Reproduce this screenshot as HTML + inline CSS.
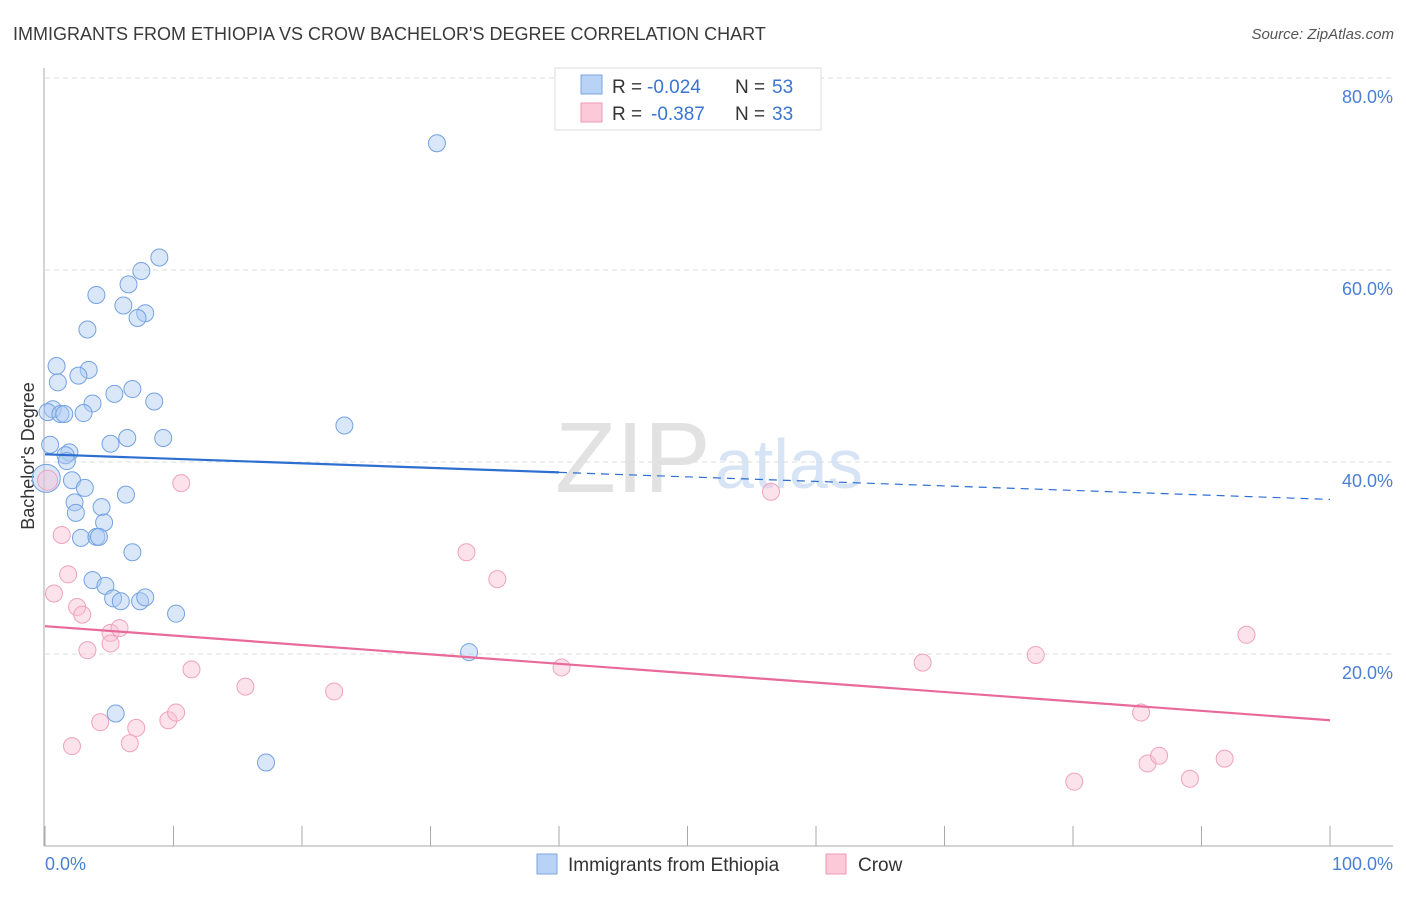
<!DOCTYPE html>
<html><head><meta charset="utf-8"><style>
body{margin:0;background:#fff;font-family:"Liberation Sans",sans-serif}
svg text{font-family:"Liberation Sans",sans-serif}
</style></head><body>
<svg id="chart" width="1406" height="892" xmlns="http://www.w3.org/2000/svg">
<text x="13" y="40" font-size="18" fill="#3a3a3a">IMMIGRANTS FROM ETHIOPIA VS CROW BACHELOR'S DEGREE CORRELATION CHART</text>
<text x="1394" y="39" font-size="15" font-style="italic" fill="#555" text-anchor="end">Source: ZipAtlas.com</text>
<text x="555" y="492" font-size="100" font-family="Liberation Serif" fill="#e2e2e2">ZIP</text>
<text x="715" y="488" font-size="70" fill="#d6e4f5">atlas</text>
<g id="grid"></g>
<line x1="44" y1="68" x2="44" y2="846" stroke="#aaa"/>
<line x1="44" y1="846" x2="1393" y2="846" stroke="#aaa"/>
<text transform="translate(34,456) rotate(-90)" font-size="18" fill="#333" text-anchor="middle">Bachelor's Degree</text>
<text x="45" y="870" font-size="18" fill="#4a7fd4">0.0%</text>
<text x="1393" y="870" font-size="18" fill="#4a7fd4" text-anchor="end">100.0%</text>
<g id="marks"></g>
<g>
<rect x="555" y="68" width="266" height="62" fill="#fff" stroke="#ddd"/>
<rect x="581" y="75" width="21" height="19" fill="#b8d3f5" stroke="#7ba4e0"/>
<rect x="581" y="103" width="21" height="19" fill="#fbc9d8" stroke="#ee9ab5"/>
<text x="612" y="93" font-size="19" fill="#333">R =</text>
<text x="647" y="93" font-size="19" fill="#3a75d0">-0.024</text>
<text x="735" y="93" font-size="19" fill="#333">N =</text>
<text x="772" y="93" font-size="19" fill="#3a75d0">53</text>
<text x="612" y="120" font-size="19" fill="#333">R =</text>
<text x="651" y="120" font-size="19" fill="#3a75d0">-0.387</text>
<text x="735" y="120" font-size="19" fill="#333">N =</text>
<text x="772" y="120" font-size="19" fill="#3a75d0">33</text>
</g>
<g>
<rect x="537" y="854" width="20" height="20" fill="#b8d3f5" stroke="#7ba4e0"/>
<text x="568" y="871" font-size="19" fill="#333">Immigrants from Ethiopia</text>
<rect x="826" y="854" width="20" height="20" fill="#fbc9d8" stroke="#ee9ab5"/>
<text x="858" y="871" font-size="19" fill="#333">Crow</text>
</g>
</svg>
<script>
const yTicks=[20,40,60,80];
const xTicks=[0,10,20,30,40,50,60,70,80,90,100];
const blueX=[30.5,8.9,7.5,6.5,4.0,6.1,7.8,7.2,3.3,0.9,3.4,1.0,2.6,5.4,6.8,3.7,8.5,0.6,0.2,1.2,1.5,3.0,6.4,9.2,5.1,23.3,1.9,1.6,1.7,0.4,2.1,3.1,6.3,2.3,4.4,2.4,4.6,2.8,4.0,4.2,6.8,3.7,4.7,5.3,5.9,7.4,7.8,10.2,33.0,5.5,17.2,0.1];
const blueY=[73.2,61.3,59.9,58.5,57.4,56.3,55.5,55.0,53.8,50.0,49.6,48.3,49.0,47.1,47.6,46.1,46.3,45.5,45.2,45.0,45.0,45.1,42.5,42.5,41.9,43.8,41.0,40.7,40.1,41.8,38.1,37.3,36.6,35.8,35.3,34.7,33.7,32.1,32.2,32.2,30.6,27.7,27.1,25.8,25.5,25.5,25.9,24.2,20.2,13.8,8.7,38.3];
const pinkX=[0.2,1.3,0.7,1.8,2.5,2.9,3.3,5.1,5.1,5.8,2.1,4.3,6.6,7.1,9.6,10.2,10.6,11.4,15.6,22.5,32.8,35.2,40.2,56.5,68.3,77.1,85.3,85.8,86.7,89.1,91.8,93.5,80.1];
const pinkY=[38.1,32.4,26.3,28.3,24.9,24.1,20.4,22.2,21.1,22.7,10.4,12.9,10.7,12.3,13.1,13.9,37.8,18.4,16.6,16.1,30.6,27.8,18.6,36.9,19.1,19.9,13.9,8.6,9.4,7.0,9.1,22.0,6.7];
const blueTrend=[40.8,36.1];
const pinkTrend=[22.9,13.1];
const X=v=>45+v*12.85, Y=v=>846-v*9.6;
const NS="http://www.w3.org/2000/svg";
const grid=document.getElementById('grid'), marks=document.getElementById('marks');
function mk(tag,attrs,parent){const e=document.createElementNS(NS,tag);for(const k in attrs)e.setAttribute(k,attrs[k]);parent.appendChild(e);return e;}
yTicks.forEach(t=>{
 const l=mk('line',{x1:45,x2:1393,y1:Y(t),y2:Y(t),stroke:'#ddd','stroke-dasharray':'5,4'},grid);
 
 
 const tx=mk('text',{x:1393,y:Y(t)+25,'font-size':18,fill:'#4a7fd4','text-anchor':'end'},grid);
 tx.textContent=t.toFixed(1)+'%';
 
 
});
xTicks.forEach(t=>{
 const l=mk('line',{x1:X(t),x2:X(t),y1:826,y2:846,stroke:'#aaa'},grid);
 
 
});
blueX.forEach((v,i)=>{
 const c=mk('circle',{cx:X(v),cy:Y(blueY[i]),r:i===blueX.length-1?14:8.5,fill:'rgba(170,202,242,0.45)',stroke:'#74a2e2','stroke-width':1},marks);
 
 
});
pinkX.forEach((v,i)=>{
 const c=mk('circle',{cx:X(v),cy:Y(pinkY[i]),r:i===0?10:8.5,fill:'rgba(248,192,210,0.45)',stroke:'#efa2bb','stroke-width':1},marks);
 
 
});
const bAt=x=>blueTrend[0]+(blueTrend[1]-blueTrend[0])*x/100;
let l1=mk('line',{x1:X(0),y1:Y(bAt(0)),x2:X(40),y2:Y(bAt(40)),stroke:'#2d6fd0','stroke-width':2.2},marks);


let l2=mk('line',{x1:X(40),y1:Y(bAt(40)),x2:X(100),y2:Y(bAt(100)),stroke:'#2d6fd0','stroke-width':1.2,'stroke-dasharray':'8,6'},marks);


let l3=mk('line',{x1:X(0),y1:Y(pinkTrend[0]),x2:X(100),y2:Y(pinkTrend[1]),stroke:'#e8699a','stroke-width':2.2},marks);


</script>
</body></html>
